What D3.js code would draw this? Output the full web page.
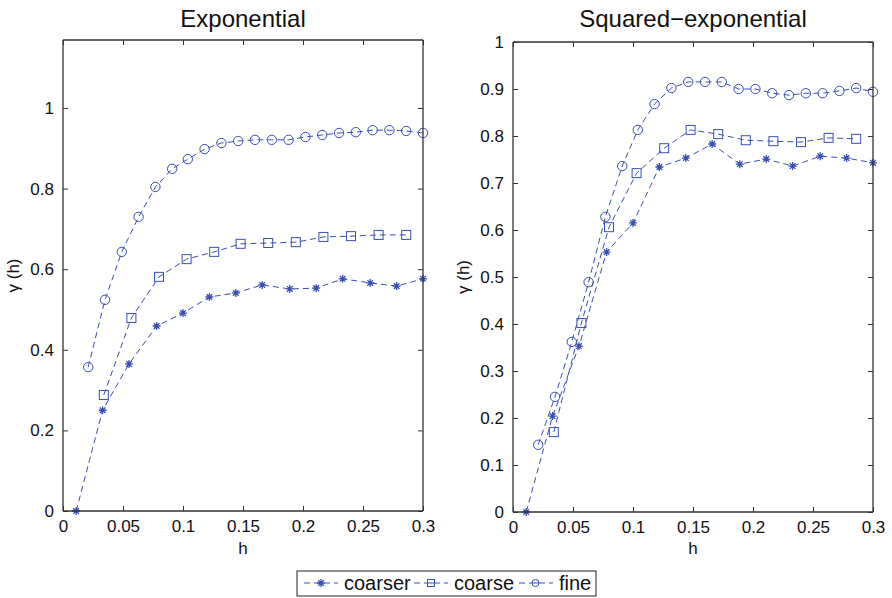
<!DOCTYPE html>
<html>
<head>
<meta charset="utf-8">
<script src="https://cdn.jsdelivr.net/npm/d3@7"></script>
<style>
  body { margin: 0; background: #fff; }
  svg { font-family: "Liberation Sans", Arial, sans-serif; }
</style>
</head>
<body>
<svg id="chart" width="892" height="598"></svg>
<script>
// lag distances for each grid
const hCoarser = [0.011,0.033,0.055,0.078,0.1,0.122,0.144,0.166,0.189,0.211,0.233,0.256,0.278,0.3];
const hCoarse = [0.034,0.057,0.08,0.103,0.126,0.148,0.171,0.194,0.217,0.24,0.263,0.286];
const hFine = [0.021,0.035,0.049,0.063,0.077,0.091,0.104,0.118,0.132,0.146,0.16,0.174,0.188,0.202,0.216,0.23,0.244,0.258,0.272,0.286,0.3];

// Exponential panel
const expCoarser = [0,0.25,0.365,0.459,0.491,0.531,0.541,0.561,0.551,0.553,0.576,0.566,0.558,0.576];
const expCoarse = [0.288,0.479,0.581,0.625,0.643,0.663,0.665,0.667,0.68,0.682,0.685,0.685];
const expFine = [0.357,0.524,0.643,0.73,0.804,0.849,0.873,0.898,0.913,0.918,0.921,0.921,0.921,0.928,0.933,0.938,0.94,0.945,0.945,0.943,0.938];

// Squared-exponential panel
const sqCoarser = [0,0.204,0.353,0.553,0.615,0.734,0.753,0.783,0.74,0.751,0.736,0.757,0.753,0.743];
const sqCoarse = [0.17,0.402,0.606,0.721,0.774,0.813,0.804,0.791,0.789,0.787,0.796,0.794];
const sqFine = [0.143,0.245,0.362,0.489,0.628,0.736,0.813,0.868,0.902,0.915,0.915,0.915,0.9,0.9,0.891,0.887,0.891,0.891,0.896,0.902,0.894];

const xTicks = [0,0.05,0.1,0.15,0.2,0.25,0.3];
const yTicksExp = [0,0.2,0.4,0.6,0.8,1];
const yTicksSq = [0,0.1,0.2,0.3,0.4,0.5,0.6,0.7,0.8,0.9,1];
const seriesNames = ["coarser","coarse","fine"];

const blue = "#3a4fb3";
const axisColor = "#333";
const svg = d3.select("#chart");

const panels = [
  {title: "Exponential", left: 63, right: 423, top: 40, bottom: 511, yMax: 1.1687, yTicks: yTicksExp,
   series: [{h: hCoarser, v: expCoarser, m: "star"}, {h: hCoarse, v: expCoarse, m: "square"}, {h: hFine, v: expFine, m: "circle"}]},
  {title: "Squared\u2212exponential", left: 513, right: 873, top: 42, bottom: 512, yMax: 1, yTicks: yTicksSq,
   series: [{h: hCoarser, v: sqCoarser, m: "star"}, {h: hCoarse, v: sqCoarse, m: "square"}, {h: hFine, v: sqFine, m: "circle"}]}
];

function drawMarker(g, type, x, y) {
  if (type === "star") {
    const r = 4;
    const d = r * 0.7;
    g.append("path")
      .attr("d", `M${x-r},${y}H${x+r}M${x},${y-r}V${y+r}M${x-d},${y-d}L${x+d},${y+d}M${x-d},${y+d}L${x+d},${y-d}`)
      .attr("stroke", blue).attr("stroke-width", 1.3).attr("fill", "none");
  } else if (type === "square") {
    g.append("rect").attr("x", x-4.5).attr("y", y-4.5).attr("width", 9).attr("height", 9)
      .attr("fill", "none").attr("stroke", blue).attr("stroke-width", 1);
  } else {
    g.append("circle").attr("cx", x).attr("cy", y).attr("r", 4.7)
      .attr("fill", "none").attr("stroke", blue).attr("stroke-width", 1);
  }
}

panels.forEach(p => {
  const x = d3.scaleLinear().domain([0, 0.3]).range([p.left, p.right]);
  const y = d3.scaleLinear().domain([0, p.yMax]).range([p.bottom, p.top]);
  const g = svg.append("g");

  // series
  p.series.forEach(s => {
    const pts = s.h.map((h, i) => [h, s.v[i]]);
    g.append("path")
      .attr("d", d3.line().x(d => x(d[0])).y(d => y(d[1]))(pts))
      .attr("fill", "none").attr("stroke", blue).attr("stroke-width", 1)
      .attr("stroke-dasharray", "6,4");
    pts.forEach(d => drawMarker(g, s.m, x(d[0]), y(d[1])));
  });

  // axes with inward ticks on every side
  const bottom = g.append("g").attr("transform", `translate(0,${p.bottom})`)
    .call(d3.axisBottom(x).tickValues(xTicks).tickSize(-5).tickPadding(9).tickFormat(d3.format("")));
  const top = g.append("g").attr("transform", `translate(0,${p.top})`)
    .call(d3.axisTop(x).tickValues(xTicks).tickSize(-5).tickFormat(""));
  const left = g.append("g").attr("transform", `translate(${p.left},0)`)
    .call(d3.axisLeft(y).tickValues(p.yTicks).tickSize(-5).tickPadding(9).tickFormat(d3.format("")));
  const right = g.append("g").attr("transform", `translate(${p.right},0)`)
    .call(d3.axisRight(y).tickValues(p.yTicks).tickSize(-5).tickFormat(""));
  [bottom, top, left, right].forEach(a => {
    a.select(".domain").attr("stroke", axisColor).attr("stroke-width", 1.3);
    a.selectAll(".tick line").attr("stroke", axisColor);
    a.selectAll("text").attr("fill", "#111").attr("font-size", 17).attr("font-family", "Liberation Sans, Arial, sans-serif");
  });
  // domain paths without outer ticks
  bottom.select(".domain").attr("d", `M${p.left},0H${p.right}`);
  top.select(".domain").attr("d", `M${p.left},0H${p.right}`);
  left.select(".domain").attr("d", `M0,${p.top}V${p.bottom}`);
  right.select(".domain").attr("d", `M0,${p.top}V${p.bottom}`);

  g.append("text").attr("x", (p.left + p.right) / 2).attr("y", 27)
    .attr("text-anchor", "middle").attr("font-size", 24).attr("fill", "#111").text(p.title);
  g.append("text").attr("x", (p.left + p.right) / 2).attr("y", 554)
    .attr("text-anchor", "middle").attr("font-size", 17).attr("fill", "#111").text("h");
  g.append("text").attr("transform", `translate(${p.left - 44},${(p.top + p.bottom) / 2}) rotate(-90)`)
    .attr("text-anchor", "middle").attr("font-size", 17).attr("fill", "#111").text("\u03b3 (h)");
});

// legend
const lg = svg.append("g");
lg.append("rect").attr("x", 297).attr("y", 571).attr("width", 299).attr("height", 25)
  .attr("fill", "#fff").attr("stroke", "#222").attr("stroke-width", 1);
const legendX = [303, 413, 518];
const legendMarkers = ["star", "square", "circle"];
seriesNames.forEach((name, i) => {
  const x0 = legendX[i];
  const yc = 583;
  lg.append("line").attr("x1", x0).attr("x2", x0 + 35).attr("y1", yc).attr("y2", yc)
    .attr("stroke", blue).attr("stroke-dasharray", "6,4").attr("stroke-dashoffset", -1);
  const mg = lg.append("g");
  if (legendMarkers[i] === "star") drawMarker(mg, "star", x0 + 18, yc);
  else if (legendMarkers[i] === "square") {
    mg.append("rect").attr("x", x0 + 14.5).attr("y", yc - 3.5).attr("width", 7).attr("height", 7)
      .attr("fill", "#fff").attr("stroke", blue);
    mg.append("line").attr("x1", x0 + 14.5).attr("x2", x0 + 21.5).attr("y1", yc).attr("y2", yc).attr("stroke", blue);
  } else {
    mg.append("circle").attr("cx", x0 + 17.5).attr("cy", yc).attr("r", 3.5).attr("fill", "#fff").attr("stroke", blue);
    mg.append("line").attr("x1", x0 + 14).attr("x2", x0 + 21).attr("y1", yc).attr("y2", yc).attr("stroke", blue);
  }
  lg.append("text").attr("x", x0 + 41).attr("y", yc + 7).attr("font-size", 20).attr("fill", "#111").text(name);
});
</script>
</body>
</html>
